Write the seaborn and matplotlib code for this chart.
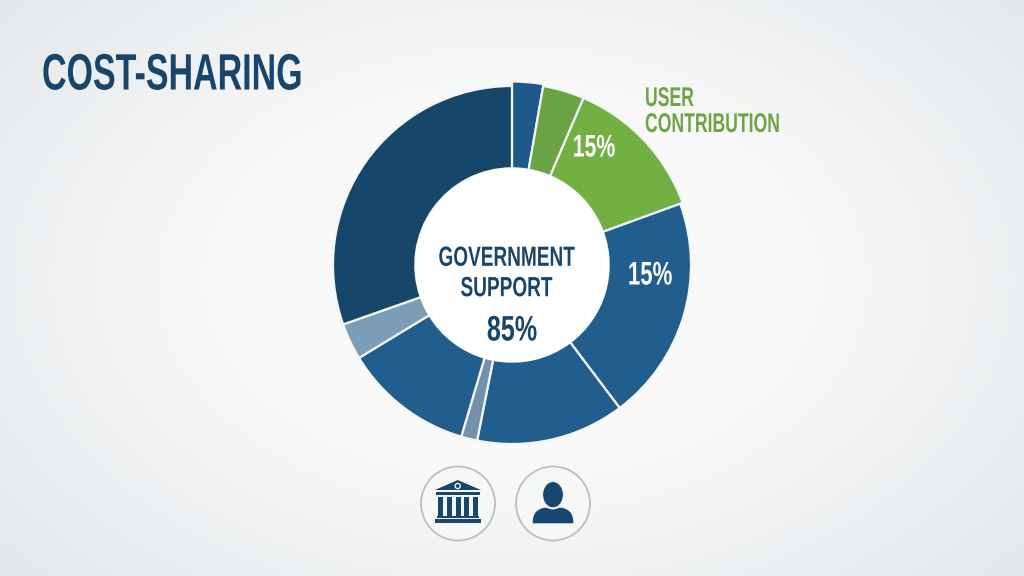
import numpy as np
import matplotlib
matplotlib.use("Agg")
import matplotlib.pyplot as plt
from matplotlib.patches import Circle, Rectangle, Polygon, Ellipse, PathPatch
from matplotlib.path import Path
from matplotlib.patheffects import AbstractPathEffect
from matplotlib.transforms import Affine2D
import seaborn as sns

segment_names = ["Gov A", "User A", "User B", "Gov B", "Gov C", "Gov D", "Gov E", "Gov F", "Gov G"]
segment_shares = [2.75, 3.7, 13.0, 20.3, 13.4, 1.45, 11.75, 3.3, 30.4]
segment_colors = ["#1d5a8a", "#69a345", "#72b043", "#215e8e", "#215e8e",
                  "#7391ac", "#215e8e", "#7c9db8", "#17466b"]
title_text = "COST-SHARING"
user_label = "USER\nCONTRIBUTION"
center_label = "GOVERNMENT\nSUPPORT"
center_value = "85%"
slice_label = "15%"

sns.set_theme(style="white")
plt.rcParams["font.family"] = ["Liberation Sans", "DejaVu Sans"]


class Narrow(AbstractPathEffect):
    """Condense the glyphs of a text horizontally about its anchor."""
    def __init__(self, sx, x0):
        super().__init__()
        self.sx, self.x0 = sx, x0

    def draw_path(self, renderer, gc, tpath, affine, rgbFace=None):
        a = affine + Affine2D().translate(-self.x0, 0).scale(self.sx, 1).translate(self.x0, 0)
        renderer.draw_path(gc, tpath, a, rgbFace)


fig = plt.figure(figsize=(10.24, 5.76), dpi=100)
bg = fig.add_axes([0, 0, 1, 1])
bg.axis("off")

yy, xx = np.mgrid[0:576, 0:1024]
d = np.sqrt(((xx - 512) / 640) ** 2 + ((yy - 280) / 420) ** 2)
t = np.clip((d - 0.42) / 0.72, 0, 1)
white = np.array([0.98, 0.98, 0.98]); edge = np.array([0.878, 0.898, 0.914])
bg.imshow(white + (edge - white) * t[..., None], extent=(0, 1024, 576, 0), aspect="auto", zorder=0)
bg.set_xlim(0, 1024); bg.set_ylim(576, 0)

CX, CY, R = 512, 265, 179.0
ax = fig.add_axes([(CX - R) / 1024, 1 - (CY + R) / 576, 2 * R / 1024, 2 * R / 576])
ax.patch.set_alpha(0)
wedges, _ = ax.pie(segment_shares, colors=segment_colors, startangle=90, counterclock=False,
                   radius=1, wedgeprops=dict(width=0.46, edgecolor="#f4f6f6", linewidth=1.6))
wedges[0].set_radius(1.025); wedges[0].set_width(0.485)
for i in (1, 2):
    wedges[i].set_radius(1.015); wedges[i].set_width(0.475)
ax.set_xlim(-1, 1); ax.set_ylim(-1, 1); ax.set_aspect("equal")
for w in wedges:
    w.set_clip_on(False)

top = fig.add_axes([0, 0, 1, 1])
top.set_xlim(0, 1024); top.set_ylim(576, 0); top.axis("off"); top.patch.set_alpha(0)
top.add_patch(Circle((512, 265), 97, fc="white", ec="none", zorder=1))

NAVY = "#17456b"


def label(x, y, s, size, sx, color, ha="center", ls=1.1):
    tx = top.text(x, y, s, fontsize=size, fontweight="bold", color=color, va="center", ha=ha,
                  linespacing=ls, zorder=5)
    tx.set_path_effects([Narrow(sx, x)])


label(42, 76, title_text, 36.8, 0.665, NAVY, ha="left")
label(645, 112, user_label, 19.5, 0.65, "#6ea544", ha="left", ls=1.0)
label(594, 148.5, slice_label, 22.5, 0.68, "white")
label(650, 276, slice_label, 23.5, 0.68, "white")
label(506.5, 274, center_label, 20, 0.685, NAVY, ls=1.22)
label(512, 331, center_value, 25.5, 0.71, NAVY)

for cx in (458, 553):
    top.add_patch(Circle((cx, 503.5), 37, fc="#f6f7f7", ec="#bcbfc0", lw=1.3))
ICON = "#17466e"
top.add_patch(Polygon([(435, 490), (457.7, 480), (481, 490)], fc=ICON, ec="none"))
top.add_patch(Circle((457.7, 486), 2.6, fc="none", ec="white", lw=0.9))
top.add_patch(Rectangle((436, 491.7), 44, 3.3, fc=ICON, ec="none"))
for x0 in (438.3, 446.8, 455.5, 464.2, 472.7):
    top.add_patch(Rectangle((x0, 497), 5, 19, fc=ICON, ec="none"))
top.add_patch(Rectangle((437, 516), 42, 2, fc=ICON, ec="none"))
top.add_patch(Rectangle((434.5, 518.5), 46.5, 4.6, fc=ICON, ec="none"))
verts = [(532.7, 523.3), (532.7, 515), (535, 510.5), (543, 508), (547, 507), (550, 509.5), (553, 509.5),
         (556, 509.5), (559, 507), (563, 508), (571, 510.5), (573.3, 515), (573.3, 523.3), (532.7, 523.3)]
codes = [Path.MOVETO] + [Path.CURVE4] * 12 + [Path.CLOSEPOLY]
top.add_patch(PathPatch(Path(verts, codes), fc=ICON, ec="none"))
top.add_patch(Ellipse((553, 494.7), 20.5, 26, fc=ICON, ec="#f6f7f7", lw=0.5))

fig.savefig("out.png", dpi=100)
